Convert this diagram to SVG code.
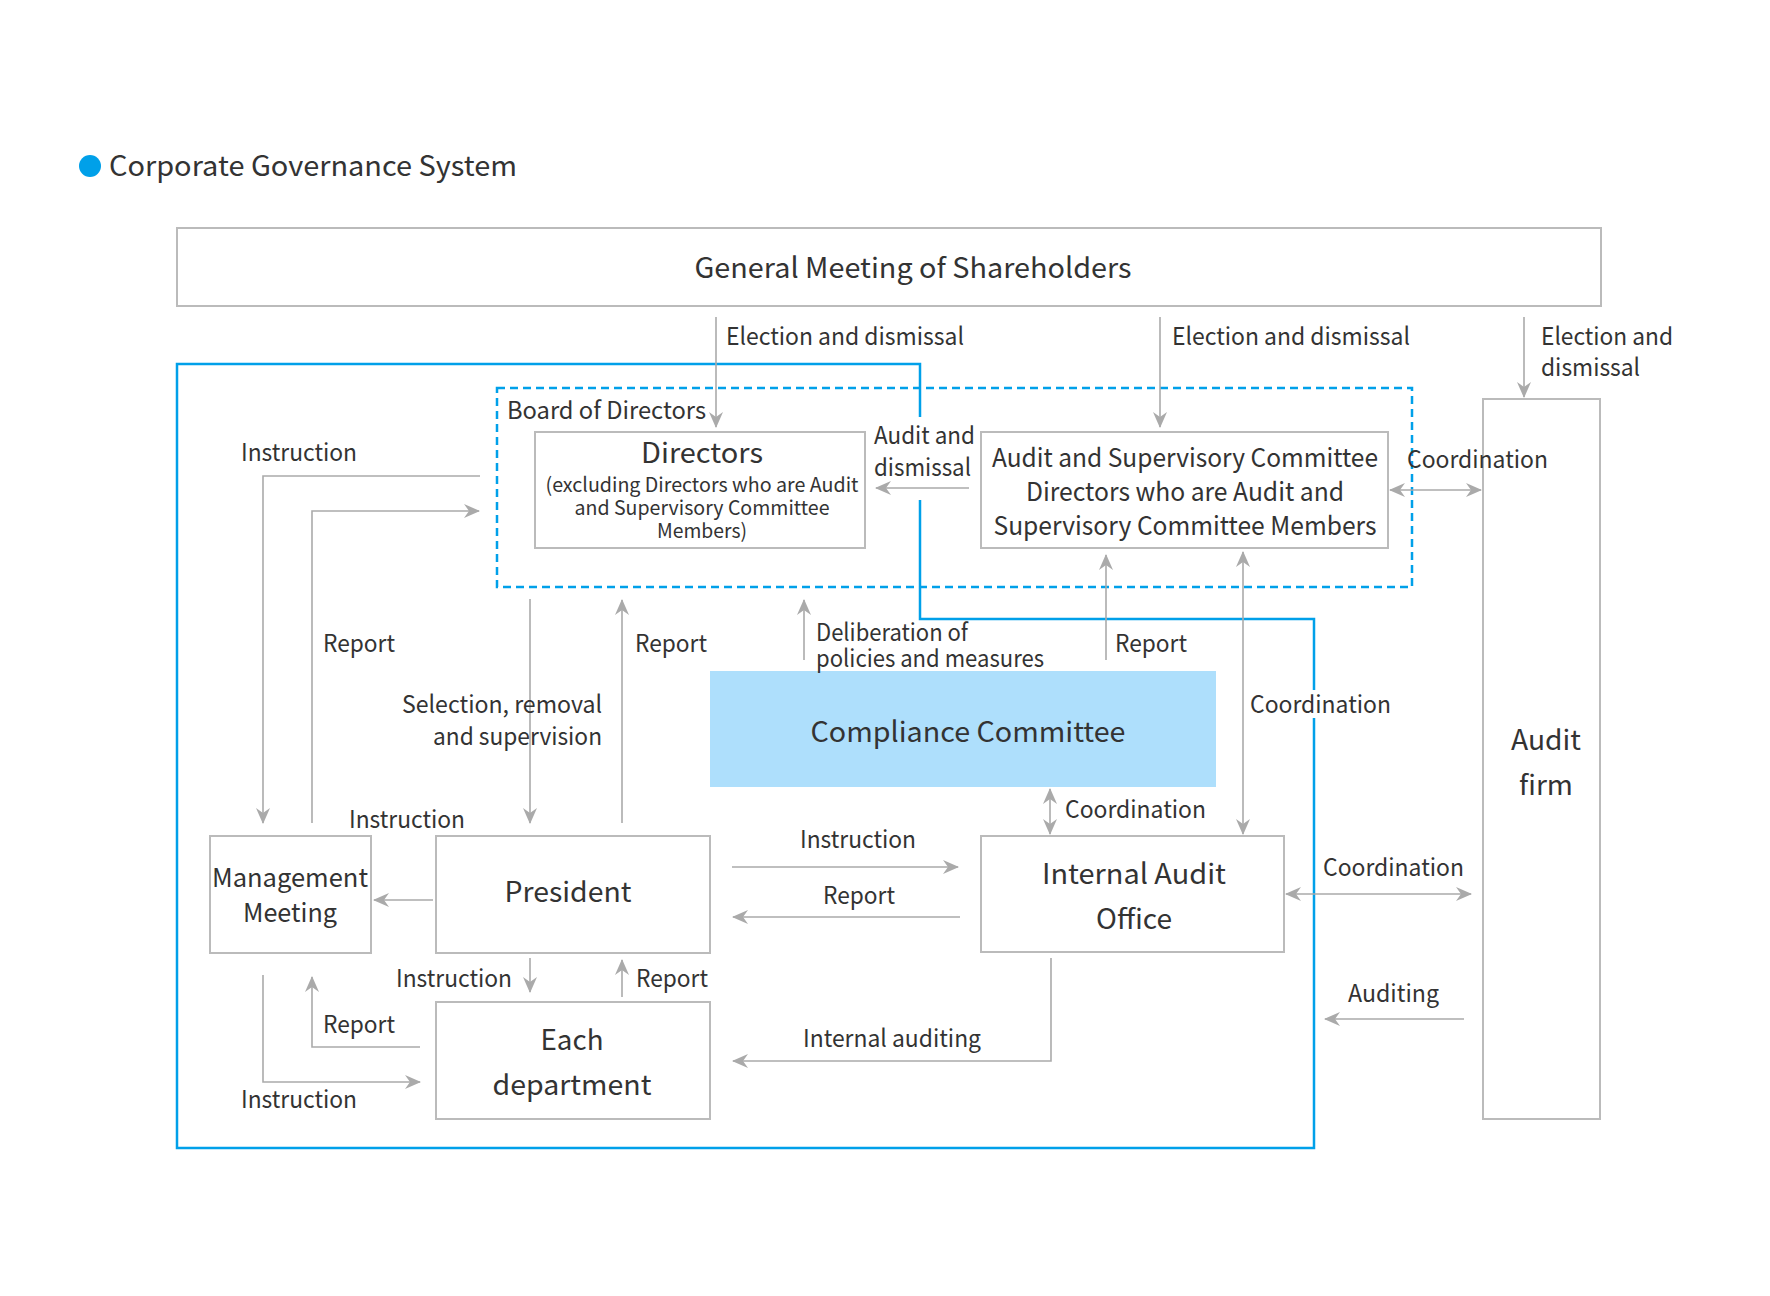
<svg xmlns="http://www.w3.org/2000/svg" width="1770" height="1296" viewBox="0 0 1770 1296">
<style>
text{font-family:"Noto Sans CJK JP","Noto Sans",sans-serif;fill:#333;}
.lbl{font-size:24px;}
.node{font-size:28px;text-anchor:middle;}
.node26{font-size:26px;text-anchor:middle;}
.sub{font-size:20px;text-anchor:middle;}
.box{fill:#fff;stroke:#bbb;stroke-width:2;}
.con{fill:none;stroke:#aaa;stroke-width:1.6;}
.blue{fill:none;stroke:#00a0e9;stroke-width:2.5;}
</style>
<defs>
<marker id="ah" viewBox="0 0 16 14" refX="15" refY="7" markerWidth="16" markerHeight="14" markerUnits="userSpaceOnUse" orient="auto-start-reverse">
<path d="M0,0 L16,7 L0,14 L5,7 Z" fill="#aaa"/>
</marker>
</defs>
<rect width="1770" height="1296" fill="#fff"/>
<g id="title">
<circle cx="90" cy="166" r="11" fill="#00a0e9"/>
<text x="109" y="176" style="font-size:28px" textLength="408" lengthAdjust="spacingAndGlyphs">Corporate Governance System</text>
</g>
<g id="frames">
<path class="blue" d="M920,417 V364 H177 V1148 H1314 V718"/>
<path class="blue" d="M1314,690 V619 H920 V500"/>
<rect x="497" y="388" width="915" height="199" fill="none" stroke="#00a0e9" stroke-width="2.5" stroke-dasharray="8 5"/>
<text class="lbl" x="507" y="419" textLength="199" lengthAdjust="spacingAndGlyphs">Board of Directors</text>
</g>
<g id="gms">
<rect class="box" x="177" y="228" width="1424" height="78"/>
<text class="node" x="913" y="278" textLength="437" lengthAdjust="spacingAndGlyphs">General Meeting of Shareholders</text>
</g>
<g id="directors">
<rect class="box" x="535" y="432" width="330" height="116"/>
<text class="node" x="702" y="463" textLength="122" lengthAdjust="spacingAndGlyphs">Directors</text>
<text class="sub" x="702" y="492" textLength="313" lengthAdjust="spacingAndGlyphs">(excluding Directors who are Audit</text>
<text class="sub" x="702" y="515" textLength="255" lengthAdjust="spacingAndGlyphs">and Supervisory Committee</text>
<text class="sub" x="702" y="538" textLength="90" lengthAdjust="spacingAndGlyphs">Members)</text>
</g>
<g id="asc">
<rect class="box" x="981" y="432" width="407" height="116"/>
<text class="node26" x="1185" y="467" textLength="386" lengthAdjust="spacingAndGlyphs">Audit and Supervisory Committee</text>
<text class="node26" x="1185" y="501" textLength="318" lengthAdjust="spacingAndGlyphs">Directors who are Audit and</text>
<text class="node26" x="1185" y="535" textLength="383" lengthAdjust="spacingAndGlyphs">Supervisory Committee Members</text>
</g>
<g id="compliance">
<rect x="710" y="671" width="506" height="116" fill="#aedffc"/>
<text class="node" x="968" y="742" textLength="315" lengthAdjust="spacingAndGlyphs">Compliance Committee</text>
</g>
<g id="management">
<rect class="box" x="210" y="836" width="161" height="117"/>
<text class="node26" x="290" y="887" textLength="156" lengthAdjust="spacingAndGlyphs">Management</text>
<text class="node26" x="290" y="922" textLength="94" lengthAdjust="spacingAndGlyphs">Meeting</text>
</g>
<g id="president">
<rect class="box" x="436" y="836" width="274" height="117"/>
<text class="node" x="568" y="902" textLength="127" lengthAdjust="spacingAndGlyphs">President</text>
</g>
<g id="iao">
<rect class="box" x="981" y="836" width="303" height="116"/>
<text class="node" x="1134" y="884" textLength="184" lengthAdjust="spacingAndGlyphs">Internal Audit</text>
<text class="node" x="1134" y="929" textLength="76" lengthAdjust="spacingAndGlyphs">Office</text>
</g>
<g id="department">
<rect class="box" x="436" y="1002" width="274" height="117"/>
<text class="node" x="572" y="1050" textLength="63" lengthAdjust="spacingAndGlyphs">Each</text>
<text class="node" x="572" y="1095" textLength="159" lengthAdjust="spacingAndGlyphs">department</text>
</g>
<g id="auditfirm">
<rect class="box" x="1483" y="399" width="117" height="720"/>
<text class="node" x="1546" y="750" textLength="70" lengthAdjust="spacingAndGlyphs">Audit</text>
<text class="node" x="1546" y="795" textLength="54" lengthAdjust="spacingAndGlyphs">firm</text>
</g>
<g id="connectors">
<path class="con" marker-end="url(#ah)" d="M716,317 V427"/>
<path class="con" marker-end="url(#ah)" d="M1160,317 V427"/>
<path class="con" marker-end="url(#ah)" d="M1524,317 V397"/>
<path class="con" marker-end="url(#ah)" d="M969,488 H876"/>
<path class="con" marker-start="url(#ah)" marker-end="url(#ah)" d="M1390,490 H1481"/>
<path class="con" marker-end="url(#ah)" d="M480,476 H263 V823"/>
<path class="con" marker-end="url(#ah)" d="M312,823 V511 H479"/>
<path class="con" marker-end="url(#ah)" d="M530,599 V823"/>
<path class="con" marker-end="url(#ah)" d="M622,823 V600"/>
<path class="con" marker-end="url(#ah)" d="M804,660 V600"/>
<path class="con" marker-end="url(#ah)" d="M1106,660 V555"/>
<path class="con" marker-start="url(#ah)" marker-end="url(#ah)" d="M1243,552 V834"/>
<path class="con" marker-start="url(#ah)" marker-end="url(#ah)" d="M1050,789 V834"/>
<path class="con" marker-end="url(#ah)" d="M433,900 H374"/>
<path class="con" marker-end="url(#ah)" d="M732,867 H958"/>
<path class="con" marker-end="url(#ah)" d="M960,917 H733"/>
<path class="con" marker-start="url(#ah)" marker-end="url(#ah)" d="M1286,894 H1471"/>
<path class="con" marker-end="url(#ah)" d="M1464,1019 H1325"/>
<path class="con" marker-end="url(#ah)" d="M1051,958 V1061 H733"/>
<path class="con" marker-end="url(#ah)" d="M530,958 V992"/>
<path class="con" marker-end="url(#ah)" d="M622,997 V960"/>
<path class="con" marker-end="url(#ah)" d="M420,1047 H312 V977"/>
<path class="con" marker-end="url(#ah)" d="M263,975 V1082 H420"/>
</g>
<g id="labels">
<text class="lbl" x="726" y="345" textLength="238" lengthAdjust="spacingAndGlyphs">Election and dismissal</text>
<text class="lbl" x="1172" y="345" textLength="238" lengthAdjust="spacingAndGlyphs">Election and dismissal</text>
<text class="lbl" x="1541" y="345" textLength="132" lengthAdjust="spacingAndGlyphs">Election and</text>
<text class="lbl" x="1541" y="376" textLength="99" lengthAdjust="spacingAndGlyphs">dismissal</text>
<text class="lbl" x="874" y="444" textLength="101" lengthAdjust="spacingAndGlyphs">Audit and</text>
<text class="lbl" x="874" y="476" textLength="97" lengthAdjust="spacingAndGlyphs">dismissal</text>
<text class="lbl" x="1407" y="468" textLength="141" lengthAdjust="spacingAndGlyphs">Coordination</text>
<text class="lbl" x="241" y="461" textLength="116" lengthAdjust="spacingAndGlyphs">Instruction</text>
<text class="lbl" x="323" y="652" textLength="72" lengthAdjust="spacingAndGlyphs">Report</text>
<text class="lbl" x="602" y="713" text-anchor="end" textLength="200" lengthAdjust="spacingAndGlyphs">Selection, removal</text>
<text class="lbl" x="602" y="745" text-anchor="end" textLength="169" lengthAdjust="spacingAndGlyphs">and supervision</text>
<text class="lbl" x="635" y="652" textLength="72" lengthAdjust="spacingAndGlyphs">Report</text>
<text class="lbl" x="816" y="641" textLength="152" lengthAdjust="spacingAndGlyphs">Deliberation of</text>
<text class="lbl" x="816" y="667" textLength="228" lengthAdjust="spacingAndGlyphs">policies and measures</text>
<text class="lbl" x="1115" y="652" textLength="72" lengthAdjust="spacingAndGlyphs">Report</text>
<text class="lbl" x="1250" y="713" textLength="141" lengthAdjust="spacingAndGlyphs">Coordination</text>
<text class="lbl" x="349" y="828" textLength="116" lengthAdjust="spacingAndGlyphs">Instruction</text>
<text class="lbl" x="1065" y="818" textLength="141" lengthAdjust="spacingAndGlyphs">Coordination</text>
<text class="lbl" x="800" y="848" textLength="116" lengthAdjust="spacingAndGlyphs">Instruction</text>
<text class="lbl" x="823" y="904" textLength="72" lengthAdjust="spacingAndGlyphs">Report</text>
<text class="lbl" x="1323" y="876" textLength="141" lengthAdjust="spacingAndGlyphs">Coordination</text>
<text class="lbl" x="396" y="987" textLength="116" lengthAdjust="spacingAndGlyphs">Instruction</text>
<text class="lbl" x="636" y="987" textLength="72" lengthAdjust="spacingAndGlyphs">Report</text>
<text class="lbl" x="323" y="1033" textLength="72" lengthAdjust="spacingAndGlyphs">Report</text>
<text class="lbl" x="803" y="1047" textLength="178" lengthAdjust="spacingAndGlyphs">Internal auditing</text>
<text class="lbl" x="1348" y="1002" textLength="91" lengthAdjust="spacingAndGlyphs">Auditing</text>
<text class="lbl" x="241" y="1108" textLength="116" lengthAdjust="spacingAndGlyphs">Instruction</text>
</g>
</svg>
